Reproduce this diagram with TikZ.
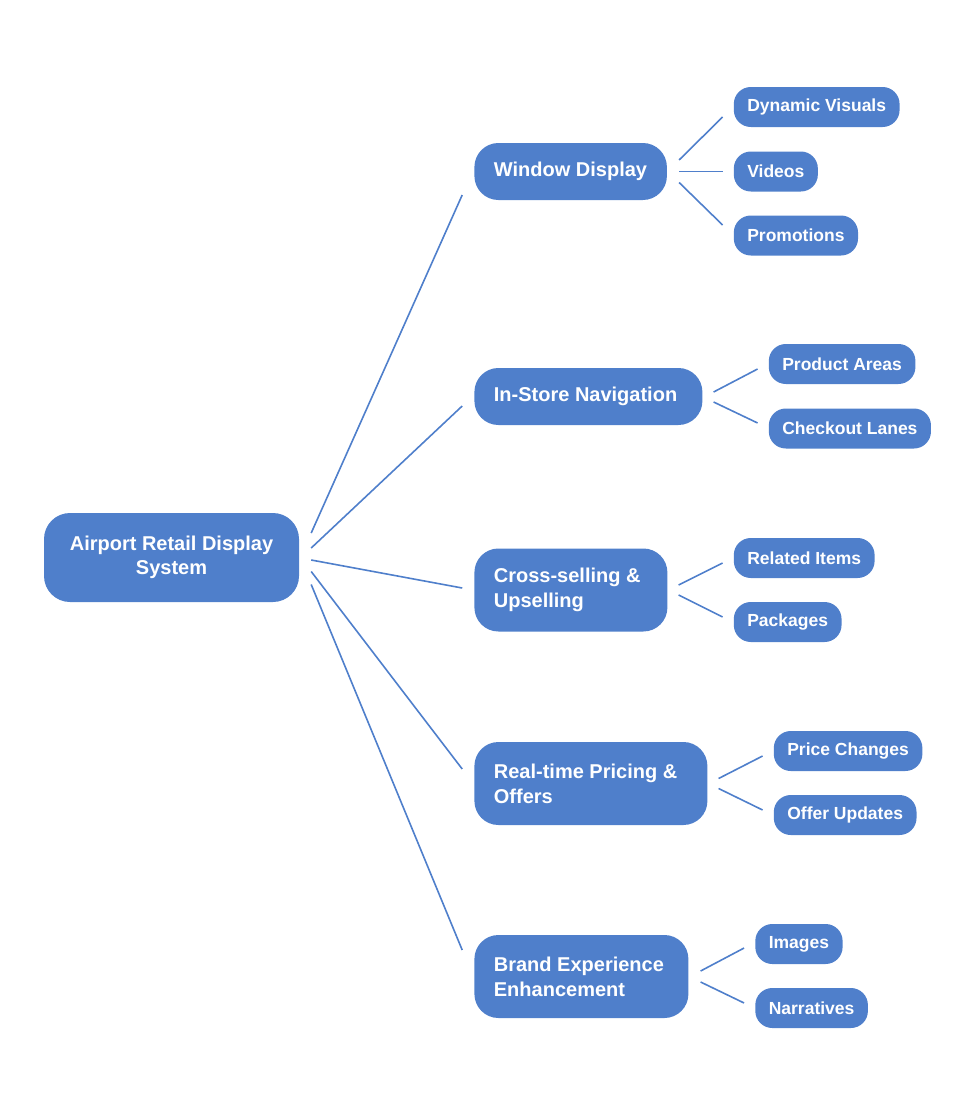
\documentclass[tikz,border=0pt]{standalone}
\usepackage{fontspec}
\setmainfont{Liberation Sans}
\usetikzlibrary{positioning}
\definecolor{boxblue}{HTML}{4F7FCB}
\tikzset{root node/.style={fill=boxblue,text=white,font=\fontsize{20}{24.5}\selectfont\bfseries,rounded corners=26pt,minimum width=255pt,minimum height=89pt,align=center,inner sep=0pt},
topic node/.style={fill=boxblue,text=white,font=\fontsize{20}{25}\selectfont\bfseries,rounded corners=24pt,inner xsep=19.5pt,inner ysep=19pt,minimum height=57pt,align=flush left,text width=#1},
two lines/.style={minimum height=83pt},
leaf node/.style={fill=boxblue,text=white,font=\fontsize{17.5}{21}\selectfont\bfseries,rounded corners=17pt,inner xsep=13.5pt,inner ysep=0pt,minimum height=40pt},
link/.style={draw=boxblue,line width=1.6pt},
}

\begin{document}
\begin{tikzpicture}
		\useasboundingbox (0,0) rectangle (975pt,-1116pt);
		\node[root node] (root) at (171.5pt,-557.5pt) {Airport Retail Display\\System};
		
		\node[topic node=153.5pt] (win) [right=175pt of root, yshift=386pt] {Window Display};
		\node[topic node=189pt] (nav) [right=175pt of root, yshift=161pt] {In-Store Navigation};
		\node[topic node=154pt,two lines] (cross) [right=175pt of root, yshift=-32.5pt] {Cross-selling \&\\Upselling};
		\node[topic node=194pt,two lines] (price) [right=175pt of root, yshift=-226pt] {Real-time Pricing \&\\Offers};
		\node[topic node=175pt,two lines] (brand) [right=175pt of root, yshift=-419pt] {Brand Experience\\Enhancement};
		
		\node[leaf node] (dyn) [right=66.5pt of win, yshift=64.5pt] {Dynamic Visuals};
		\node[leaf node] (vid) [right=66.5pt of win] {Videos};
		\node[leaf node] (promo) [right=66.5pt of win, yshift=-64pt] {Promotions};
		\node[leaf node] (areas) [right=66pt of nav, yshift=32.5pt] {Product Areas};
		\node[leaf node] (lanes) [right=66pt of nav, yshift=-32pt] {Checkout Lanes};
		\node[leaf node] (items) [right=66pt of cross, yshift=32pt] {Related Items};
		\node[leaf node] (pack) [right=66pt of cross, yshift=-32pt] {Packages};
		\node[leaf node] (chg) [right=66pt of price, yshift=32.5pt] {Price Changes};
		\node[leaf node] (upd) [right=66pt of price, yshift=-31.5pt] {Offer Updates};
		\node[leaf node] (img) [right=66.5pt of brand, yshift=32.5pt] {Images};
		\node[leaf node] (narr) [right=66.5pt of brand, yshift=-31.5pt] {Narratives};
		
		% root to topics
		\draw[link] ([shift={(12pt,24.5pt)}]root.east) -- ([shift={(-12pt,-23.5pt)}]win.west);
		\draw[link] ([shift={(12pt,9.5pt)}]root.east) -- ([shift={(-12pt,-9.5pt)}]nav.west);
		\draw[link] ([shift={(12pt,-2.5pt)}]root.east) -- ([shift={(-12pt,2pt)}]cross.west);
		\draw[link] ([shift={(12pt,-14pt)}]root.east) -- ([shift={(-12pt,14.5pt)}]price.west);
		\draw[link] ([shift={(12pt,-27pt)}]root.east) -- ([shift={(-12pt,26.5pt)}]brand.west);
		
		% topics to leaves
		\draw[link] ([shift={(12pt,11.5pt)}]win.east) -- ([shift={(-11pt,-10pt)}]dyn.west);
		\draw[link] ([shift={(12pt,0pt)}]win.east) -- ([shift={(-11pt,0pt)}]vid.west);
		\draw[link] ([shift={(12pt,-11pt)}]win.east) -- ([shift={(-11pt,10.5pt)}]promo.west);
		\draw[link] ([shift={(11pt,4.5pt)}]nav.east) -- ([shift={(-11pt,-5pt)}]areas.west);
		\draw[link] ([shift={(11pt,-5.5pt)}]nav.east) -- ([shift={(-11pt,5.5pt)}]lanes.west);
		\draw[link] ([shift={(11pt,5pt)}]cross.east) -- ([shift={(-11pt,-5pt)}]items.west);
		\draw[link] ([shift={(11pt,-5pt)}]cross.east) -- ([shift={(-11pt,5pt)}]pack.west);
		\draw[link] ([shift={(11pt,5pt)}]price.east) -- ([shift={(-11pt,-5pt)}]chg.west);
		\draw[link] ([shift={(11pt,-5pt)}]price.east) -- ([shift={(-11pt,5pt)}]upd.west);
		\draw[link] ([shift={(12pt,5.5pt)}]brand.east) -- ([shift={(-11pt,-4pt)}]img.west);
		\draw[link] ([shift={(12pt,-5.5pt)}]brand.east) -- ([shift={(-11pt,5pt)}]narr.west);
		
	\end{tikzpicture}
\end{document}
